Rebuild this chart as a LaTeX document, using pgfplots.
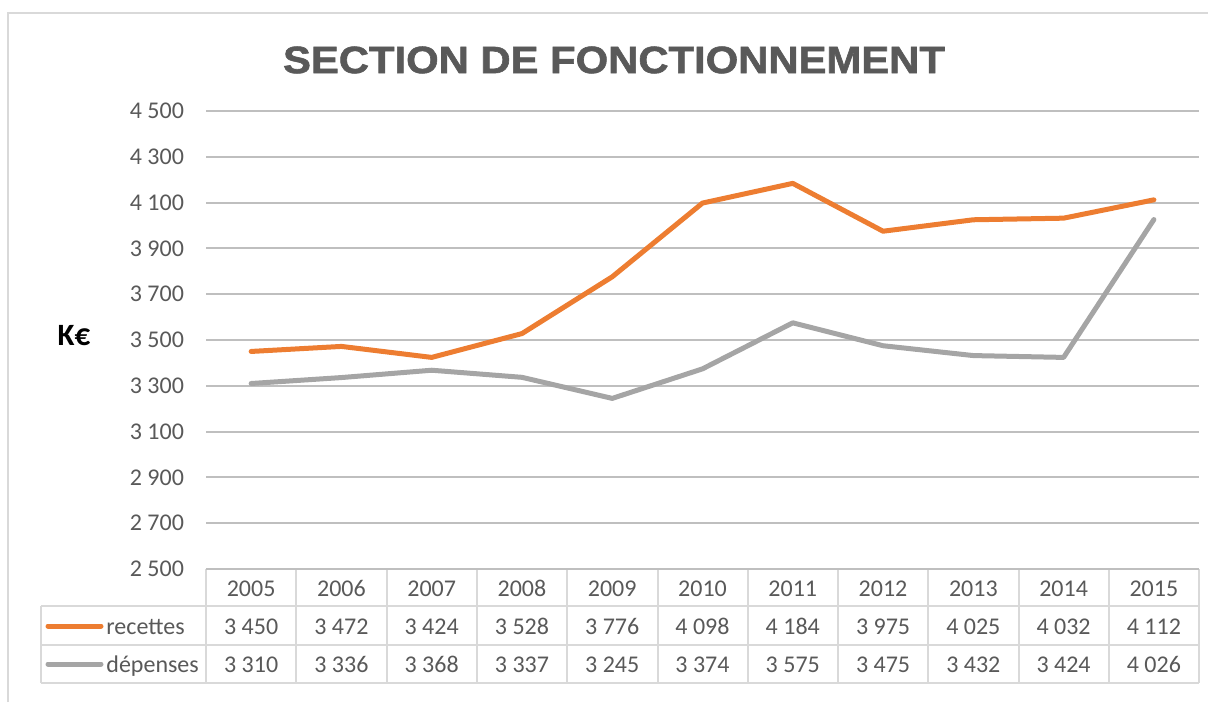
\documentclass[border=0pt]{standalone}
\usepackage{pgfplots}
\pgfplotsset{compat=1.18}
\usepackage{pgfplotstable}
\usepackage{fontspec}
\setmainfont{Carlito}
\newfontfamily\titlefont[FakeStretch=1.1,FakeBold=1.6]{Liberation Sans Bold}
\definecolor{corange}{HTML}{ED7D31}
\definecolor{cgray}{HTML}{A5A5A5}
\definecolor{grid}{HTML}{D9D9D9}
\definecolor{txt}{HTML}{595959}

\pgfplotstableread{
x year rec dep
0 2005 3450 3310
1 2006 3472 3336
2 2007 3424 3368
3 2008 3528 3337
4 2009 3776 3245
5 2010 4098 3374
6 2011 4184 3575
7 2012 3975 3475
8 2013 4025 3432
9 2014 4032 3424
10 2015 4112 4026
}\data

\begin{document}
\begin{tikzpicture}
\path[use as bounding box] (0,0) rectangle (604pt,351pt);
\begin{scope}[x=0.5pt,y=-0.5pt,shift={(0,351pt)}]
  % chart border
  \draw[grid, line width=0.8pt] (8,702) -- (8,13) -- (1210,13);
  % title
  \node[text=txt, font=\titlefont\fontsize{19}{22}\selectfont] at (614,60) {SECTION DE FONCTIONNEMENT};
  % K€
  \node[font=\bfseries\fontsize{15.5}{18}\selectfont] at (74,336) {K€};
  % table lines
  \foreach \k in {0,...,11} {
    \draw[grid, line width=1pt] ({206+\k*90.3},569) -- ({206+\k*90.3},683);
  }
  \draw[grid, line width=1pt] (41,606) -- (1199.3,606);
  \draw[grid, line width=1pt] (41,645) -- (1199.3,645);
  \draw[grid, line width=1pt] (41,683) -- (1199.3,683);
  \draw[grid, line width=1pt] (41,606) -- (41,683);
  % legend keys
  \draw[corange, line width=2.5pt, line cap=round] (48,626) -- (101,626);
  \draw[cgray, line width=2.5pt, line cap=round] (48,664) -- (101,664);
  \node[anchor=base west, inner sep=0pt, text=txt, font=\fontsize{12}{14}\selectfont] at (106,634) {recettes};
  \node[anchor=base west, inner sep=0pt, text=txt, font=\fontsize{12}{14}\selectfont] at (106,672) {dépenses};
\end{scope}
\begin{axis}[
  at={(103pt,66.5pt)}, anchor=south west,
  scale only axis, width=496.5pt, height=229pt,
  xmin=-0.5, xmax=10.5, ymin=2500, ymax=4500,
  ytick={2500,2700,...,4500}, xtick=\empty,
  axis line style={draw=none},
  major tick length=0pt,
  ymajorgrids, major grid style={grid, line width=1pt},
  clip=false,
  yticklabel style={text=txt, font=\fontsize{12}{14}\selectfont, xshift=-7.5pt,
    /pgf/number format/1000 sep={\ }},
  /pgf/number format/assume math mode=true,
  nodes near coords style={anchor=base, inner sep=0pt, text=txt, font=\fontsize{12}{14}\selectfont,
    /pgf/number format/1000 sep={\ }, /pgf/number format/fixed, /pgf/number format/precision=0},
]
\addplot[corange, line width=2.5pt, line join=round, line cap=round, mark=none] table[x=x, y=rec] {\data};
\addplot[cgray, line width=2.5pt, line join=round, line cap=round, mark=none] table[x=x, y=dep] {\data};
% data table text
\addplot[draw=none, mark=none, nodes near coords, point meta=explicit,
  nodes near coords style={/pgf/number format/1000 sep={}}] table[x=x, y expr=2382, meta=year] {\data};
\addplot[draw=none, mark=none, nodes near coords, point meta=explicit] table[x=x, y expr=2216, meta=rec] {\data};
\addplot[draw=none, mark=none, nodes near coords, point meta=explicit] table[x=x, y expr=2050, meta=dep] {\data};
\end{axis}
\end{tikzpicture}
\end{document}
